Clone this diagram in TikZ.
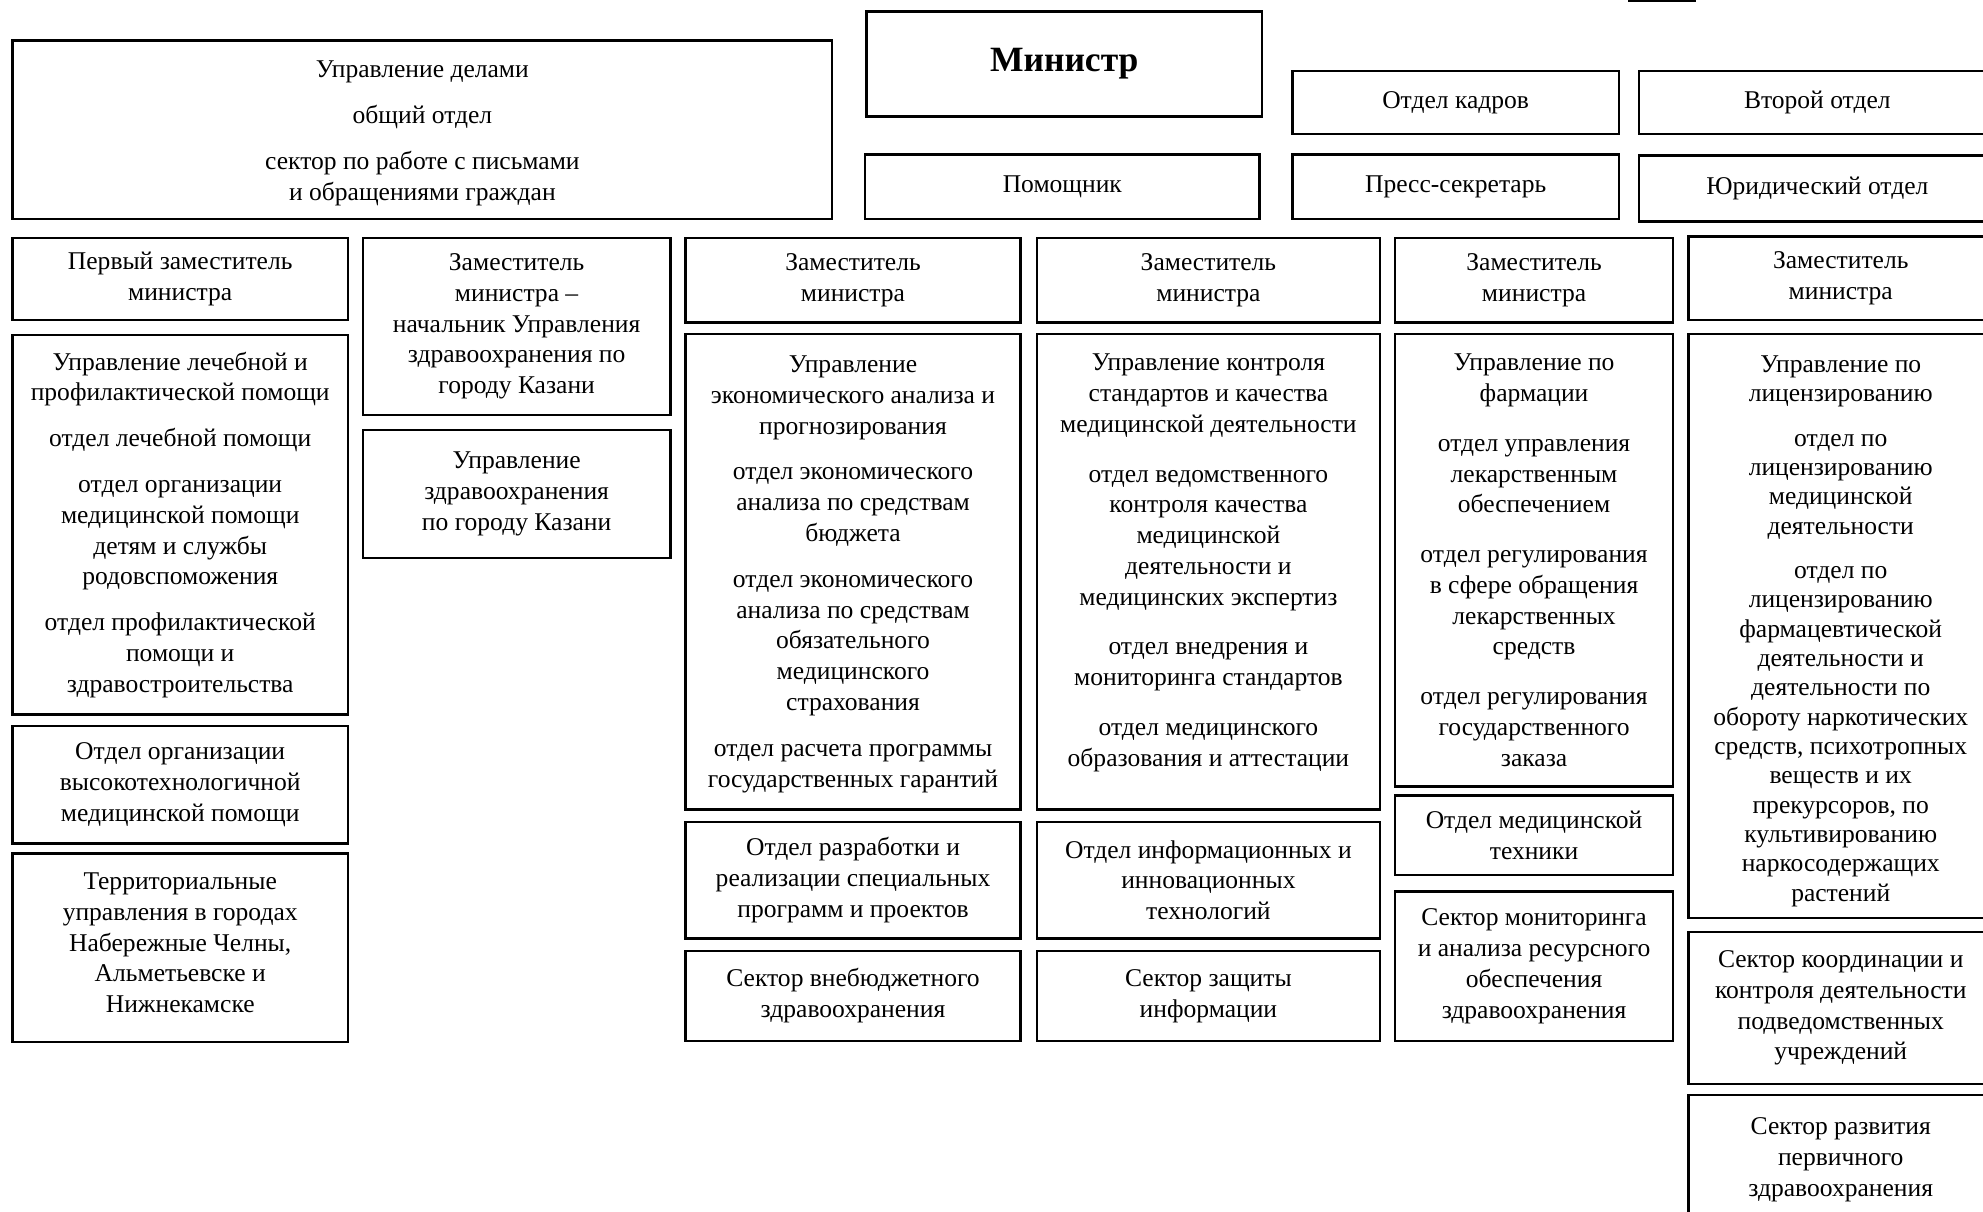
\documentclass[tikz,border=0pt]{standalone}
\usepackage{fontspec}
\setmainfont{Liberation Serif}
\usetikzlibrary{calc}
\usetikzlibrary{positioning}

\newcommand{\grp}{\\[6.8pt]}
\tikzset{
  box/.style={draw, line width=1.1pt},
  boxtext/.style={align=center, inner sep=0pt, font=\fontsize{11.5}{13.85}\selectfont},
  tighttext/.style={align=center, inner sep=0pt, font=\fontsize{11.5}{13.2}\selectfont}
}

\begin{document}
\begin{tikzpicture}[x=0.02cm, y=-0.02cm]
    \useasboundingbox (0,0) rectangle (1568,958);
    \clip (0,0) rectangle (1568,958);

    % top row
    \draw[box] (10,32) rectangle (658,173) node[midway, boxtext, yshift=-0.06cm] (delami) {Управление делами\grp общий отдел\grp сектор по работе с письмами\\и обращениями граждан};
    \draw[box] (685,9) rectangle (998,92) node[midway, boxtext, font=\fontsize{16}{19}\selectfont\bfseries] (ministr) {Министр};
    \draw[box] (1022,56) rectangle (1280,106) node[midway, boxtext] (kadry) {Отдел кадров};
    \draw[box] (1296,56) rectangle (1578,106) node[midway, boxtext] (vtoroy) {Второй отдел};
    \draw[box] (684,122) rectangle (996,173) node[midway, boxtext] (pomosh) {Помощник};
    \draw[box] (1022,122) rectangle (1280,173) node[midway, boxtext] (press) {Пресс-секретарь};
    \draw[box] (1296,123) rectangle (1578,175) node[midway, boxtext] (yurist) {Юридический отдел};
    \draw[line width=1.5pt] (1287,0.5) -- (1341,0.5);

    % deputies
    \draw[box] (10,188) rectangle (275,253) node[midway, boxtext] (zam1) {Первый заместитель\\министра};
    \draw[box] (287,188) rectangle (530,328) node[midway, boxtext] (zam2) {Заместитель\\министра –\\начальник Управления\\здравоохранения по\\городу Казани};
    \draw[box] (542,188) rectangle (807,255) node[midway, boxtext] (zam3) {Заместитель\\министра};
    \draw[box] (820,188) rectangle (1091,255) node[midway, boxtext] (zam4) {Заместитель\\министра};
    \draw[box] (1103,188) rectangle (1323,255) node[midway, boxtext] (zam5) {Заместитель\\министра};
    \draw[box] (1335,187) rectangle (1576,253) node[midway, boxtext] (zam6) {Заместитель\\министра};

    % column 1
    \draw[box] (10,265) rectangle (275,565) node[midway, boxtext] (lechpom) {Управление лечебной и\\профилактической помощи\grp отдел лечебной помощи\grp отдел организации\\медицинской помощи\\детям и службы\\родовспоможения\grp отдел профилактической\\помощи и\\здравостроительства};
    \draw[box] (10,574) rectangle (275,667) node[midway, boxtext] (vysoko) {Отдел организации\\высокотехнологичной\\медицинской помощи};
    \draw[box] (10,675) rectangle (275,824) node[midway, boxtext, yshift=0.08cm] (territ) {Территориальные\\управления в городах\\Набережные Челны,\\Альметьевске и\\Нижнекамске};

    % column 2
    \draw[box] (287,340) rectangle (530,441) node[midway, boxtext] (kazan) {Управление\\здравоохранения\\по городу Казани};

    % column 3
    \draw[box] (542,264) rectangle (807,640) node[midway, boxtext, yshift=-0.04cm] (ekonom) {Управление\\экономического анализа и\\прогнозирования\grp отдел экономического\\анализа по средствам\\бюджета\grp отдел экономического\\анализа по средствам\\обязательного\\медицинского\\страхования\grp отдел расчета программы\\государственных гарантий};
    \draw[box] (542,650) rectangle (807,742) node[midway, boxtext] (razrab) {Отдел разработки и\\реализации специальных\\программ и проектов};
    \draw[box] (542,752) rectangle (807,823) node[midway, boxtext] (vnebudg) {Сектор внебюджетного\\здравоохранения};

    % column 4
    \draw[box] (820,264) rectangle (1091,640) node[midway, boxtext, yshift=0.14cm] (kontrol) {Управление контроля\\стандартов и качества\\медицинской деятельности\\[8.5pt]отдел ведомственного\\контроля качества\\медицинской\\деятельности и\\медицинских экспертиз\\[8.5pt]отдел внедрения и\\мониторинга стандартов\\[8.5pt]отдел медицинского\\образования и аттестации};
    \draw[box] (820,650) rectangle (1091,742) node[midway, boxtext] (inform) {Отдел информационных и\\инновационных\\технологий};
    \draw[box] (820,752) rectangle (1091,823) node[midway, boxtext] (zashita) {Сектор защиты\\информации};

    % column 5
    \draw[box] (1103,264) rectangle (1323,622) node[midway, boxtext] (farm) {Управление по\\фармации\\[8.5pt]отдел управления\\лекарственным\\обеспечением\\[8.5pt]отдел регулирования\\в сфере обращения\\лекарственных\\средств\\[8.5pt]отдел регулирования\\государственного\\заказа};
    \draw[box] (1103,629) rectangle (1323,692) node[midway, boxtext] (medtech) {Отдел медицинской\\техники};
    \draw[box] (1103,705) rectangle (1323,823) node[midway, boxtext] (monitor) {Сектор мониторинга\\и анализа ресурсного\\обеспечения\\здравоохранения};

    % column 6
    \draw[box] (1335,264) rectangle (1576,726) node[midway, tighttext, yshift=-0.08cm] (licenz) {Управление по\\лицензированию\grp отдел по\\лицензированию\\медицинской\\деятельности\grp отдел по\\лицензированию\\фармацевтической\\деятельности и\\деятельности по\\обороту наркотических\\средств, психотропных\\веществ и их\\прекурсоров, по\\культивированию\\наркосодержащих\\растений};
    \draw[box] (1335,737) rectangle (1576,857) node[midway, boxtext] (koord) {Сектор координации и\\контроля деятельности\\подведомственных\\учреждений};
    \draw[box] (1335,866) rectangle (1576,968) node[midway, boxtext] (razvit) {Сектор развития\\первичного\\здравоохранения};
\end{tikzpicture}
\end{document}
